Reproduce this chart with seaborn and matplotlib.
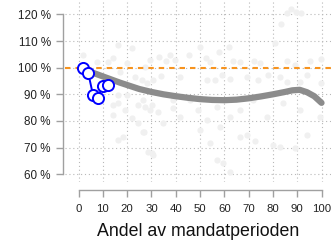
import matplotlib
matplotlib.use("Agg")
import matplotlib.pyplot as plt
import seaborn as sns
import numpy as np
import pandas as pd

bg_x = [85.7, 89.4, 91.6, 87.4, 83.2, 80.7, 50.0, 62.0, 57.8, 45.6, 37.8, 33.0,
        52.3, 54.1, 35.9, 39.7, 63.7, 66.5, 72.3, 74.6, 85.8, 89.0, 95.1, 99.9,
        30.8, 33.9, 41.8, 52.8, 56.2, 58.9, 62.3, 69.2, 73.7, 77.9, 83.0, 85.7,
        91.2, 93.9, 99.9, 27.4, 32.8, 39.0, 41.8, 49.3, 52.8, 50.0, 54.1, 56.9,
        59.6, 62.3, 30.8, 27.0, 34.9, 66.5, 69.2, 72.6, 80.2, 82.9, 89.1, 93.9,
        99.4, 77.4, 62.3, 58.2, 84.3, 91.2, 45.9, 39.0, 66.5, 71.9, 56.9,
        16.4, 21.9, 2.0, 7.5, 12.3, 14.3, 19.8, 27.4, 29.4, 23.3, 26.0, 28.1, 17.1,
        16.4, 19.8, 14.3, 16.4, 19.1, 14.3, 24.6, 26.7, 21.9, 24.6, 26.7, 18.4,
        16.4, 28.7, 30.1, 29.4, 30.1]
bg_y = [120.4, 120.8, 120.4, 122.0, 116.4, 109.1, 107.9, 107.9, 106.0, 104.8, 104.8, 103.9,
        103.7, 102.2, 102.5, 102.9, 102.5, 102.2, 102.5, 101.9, 102.6, 100.9, 102.5, 103.1,
        95.4, 96.9, 96.6, 95.4, 95.4, 97.3, 95.8, 96.6, 95.4, 97.3, 96.6, 94.8,
        94.8, 97.3, 94.2, 85.4, 83.5, 84.8, 81.6, 84.1, 80.4, 76.6, 71.7, 65.4,
        64.2, 61.0, 67.3, 76.0, 79.1, 74.1, 74.8, 72.3, 71.0, 70.4, 69.8, 74.8,
        81.6, 81.6, 81.6, 77.9, 86.6, 84.1, 87.9, 87.9, 84.1, 87.9, 85.4,
        108.5, 107.3, 104.8, 102.2, 102.2, 103.5, 101.6, 100.4, 102.9, 96.6, 95.4, 94.2, 98.5,
        89.8, 89.8, 86.0, 86.6, 84.1, 82.3, 86.0, 87.9, 81.0, 79.1, 76.0, 74.1,
        72.9, 68.5, 67.9, 84.1, 86.0]

# smoothed trend (thick grey line)
trend_x = [5, 8, 11, 14, 17, 20, 25, 30, 35, 40, 45, 50, 55, 60, 65, 70, 75,
           80, 85, 88, 91, 94, 97, 100]
trend_y = [98.4, 97.4, 96.4, 95.4, 94.4, 93.5, 92.0, 90.9, 90.0, 89.3, 88.7, 88.2,
           87.9, 87.8, 88.0, 88.5, 89.2, 90.0, 90.9, 91.5, 91.7, 90.8, 89.3, 86.8]

# highlighted series (blue open circles)
hl_x = [2, 4, 6, 8, 10, 12]
hl_y = [100.0, 98.0, 89.6, 88.6, 93.2, 93.6]

y_ticks = [60, 70, 80, 90, 100, 110, 120]
x_ticks = [0, 10, 20, 30, 40, 50, 60, 70, 80, 90, 100]
x_label = "Andel av mandatperioden"

sns.set_style("white")
plt.rcParams['font.family'] = ['Liberation Sans', 'DejaVu Sans']

fig = plt.figure(figsize=(3.31, 2.45), dpi=100)
ax = fig.add_axes([65 / 331, 1 - 182 / 245, 266 / 331, 182 / 245])

df_bg = pd.DataFrame({"x": bg_x, "y": bg_y})
df_trend = pd.DataFrame({"x": trend_x, "y": trend_y})
df_hl = pd.DataFrame({"x": hl_x, "y": hl_y})

sns.scatterplot(data=df_bg, x="x", y="y", ax=ax, color="#f0f0f0", s=20,
                linewidth=0, zorder=1)

# dotted grid
for xt in x_ticks:
    ax.axvline(xt, color="#b8b8b8", lw=0.8, ls=(0, (1, 2.5)), zorder=0)
for yt in y_ticks:
    ax.axhline(yt, color="#b8b8b8", lw=0.8, ls=(0, (1, 2.5)), zorder=0)

ax.axhline(100, color="#f7931e", lw=1.5, ls=(0, (2.6, 2.4)), zorder=2)

sns.lineplot(data=df_trend, x="x", y="y", ax=ax, color="#8c8c8c", lw=4.5,
             zorder=3, sort=False)
sns.lineplot(data=df_hl, x="x", y="y", ax=ax, color="#0000ff", lw=1.4,
             marker="o", markersize=8, markerfacecolor="white",
             markeredgecolor="#0000ff", markeredgewidth=1.4, zorder=4, sort=False)

ax.set_xlim(-5.56, 103.9)
ax.set_ylim(57.1, 125.4)

for side in ["top", "right"]:
    ax.spines[side].set_visible(False)
ax.spines["left"].set_position(("outward", 1.5))
ax.spines["left"].set_bounds(60, 120)
ax.spines["bottom"].set_position(("outward", 5.5))
ax.spines["bottom"].set_bounds(0, 100)
for side in ["left", "bottom"]:
    ax.spines[side].set_color("#a0a0a0")
    ax.spines[side].set_linewidth(1.0)

ax.set_yticks(y_ticks)
ax.set_yticklabels([f"{v} %" for v in y_ticks])
ax.set_xticks(x_ticks)
ax.set_xticklabels([str(v) for v in x_ticks])
ax.tick_params(axis="y", length=4.8, width=1.0, color="#a0a0a0", pad=4,
               labelsize=8.4, labelcolor="#222222", left=True)
ax.tick_params(axis="x", length=5, width=1.0, color="#a0a0a0", pad=5.5,
               labelsize=8.2, labelcolor="#222222", bottom=True)

ax.set_xlabel(x_label, fontsize=12.8, color="#111111", labelpad=6)
ax.set_ylabel("")
ax.grid(False)

fig.savefig("out.png", dpi=100)
